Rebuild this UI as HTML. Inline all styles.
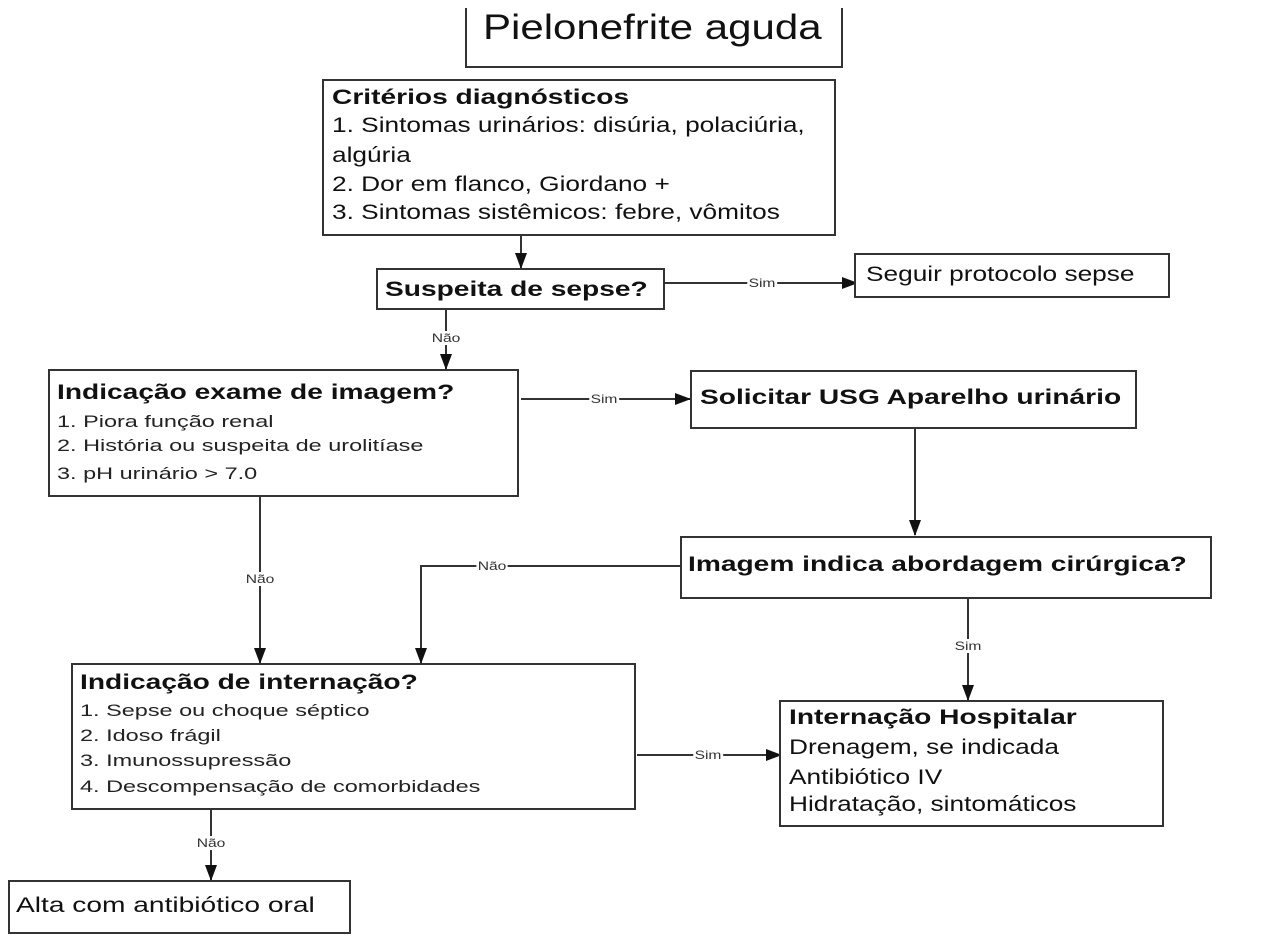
<!DOCTYPE html>
<html><head><meta charset="utf-8"><style>
body{margin:0;width:1269px;height:942px;background:#fff;position:relative;overflow:hidden;font-family:"Liberation Sans",sans-serif;color:#111}
.b{position:absolute;border:2px solid #333;box-sizing:border-box;background:#fff}
.t{position:absolute;white-space:nowrap;transform-origin:0 0;transform:scaleX(1.34);font-size:21px;line-height:24px}
.r{transform:scaleX(1.25)}
.s{font-size:17px;line-height:20px;transform:scaleX(1.38);color:#222}
.bold{font-weight:bold}
svg{position:absolute;left:0;top:0}
.lbl{position:absolute;font-size:12px;line-height:14px;background:#fff;color:#333;transform:translate(-50%,-50%) scaleX(1.3);padding:0 1px}
</style></head><body>
<svg width="1269" height="942">
<defs><marker id="a2" markerWidth="16" markerHeight="12" refX="15" refY="6" orient="auto" markerUnits="userSpaceOnUse"><path d="M0,0 L16,6 L0,12 z" fill="#111"/></marker></defs>
<g stroke="#333" stroke-width="2" fill="none">
<path d="M466,8 V67 H842 V8"/>
<path d="M521,235 V268" marker-end="url(#a2)"/>
<path d="M665,283 H857" marker-end="url(#a2)"/>
<path d="M446,309 V369" marker-end="url(#a2)"/>
<path d="M521,399 H690" marker-end="url(#a2)"/>
<path d="M915,429 V535" marker-end="url(#a2)"/>
<path d="M681,566 H421 V663" marker-end="url(#a2)"/>
<path d="M260,497 V663" marker-end="url(#a2)"/>
<path d="M968,598 V700" marker-end="url(#a2)"/>
<path d="M637,755 H781" marker-end="url(#a2)"/>
<path d="M211,809 V880" marker-end="url(#a2)"/>
</g></svg>
<div class="t" style="left:483px;top:8px;font-size:35px;line-height:40px;transform:scaleX(1.2)">Pielonefrite aguda</div>

<div class="b" style="left:322px;top:79px;width:514px;height:157px"></div>
<div class="t bold" style="left:332px;top:86px">Critérios diagnósticos</div>
<div class="t r" style="left:332px;top:114px">1. Sintomas urinários: disúria, polaciúria,</div>
<div class="t r" style="left:332px;top:144px">algúria</div>
<div class="t r" style="left:332px;top:173px">2. Dor em flanco, Giordano +</div>
<div class="t r" style="left:332px;top:201px">3. Sintomas sistêmicos: febre, vômitos</div>

<div class="b" style="left:376px;top:268px;width:289px;height:42px"></div>
<div class="t bold" style="left:385px;top:278px">Suspeita de sepse?</div>

<div class="b" style="left:854px;top:253px;width:316px;height:45px"></div>
<div class="t r" style="left:866px;top:263px">Seguir protocolo sepse</div>

<div class="b" style="left:48px;top:369px;width:471px;height:128px"></div>
<div class="t bold" style="left:57px;top:381px">Indicação exame de imagem?</div>
<div class="t s" style="left:57px;top:412px">1. Piora função renal</div>
<div class="t s" style="left:57px;top:436px">2. História ou suspeita de urolitíase</div>
<div class="t s" style="left:57px;top:464px">3. pH urinário &gt; 7.0</div>

<div class="b" style="left:690px;top:370px;width:447px;height:59px"></div>
<div class="t bold" style="left:700px;top:386px">Solicitar USG Aparelho urinário</div>

<div class="b" style="left:680px;top:536px;width:532px;height:63px"></div>
<div class="t bold" style="left:688px;top:553px">Imagem indica abordagem cirúrgica?</div>

<div class="b" style="left:71px;top:663px;width:565px;height:147px"></div>
<div class="t bold" style="left:80px;top:671px">Indicação de internação?</div>
<div class="t s" style="left:80px;top:701px">1. Sepse ou choque séptico</div>
<div class="t s" style="left:80px;top:726px">2. Idoso frágil</div>
<div class="t s" style="left:80px;top:751px">3. Imunossupressão</div>
<div class="t s" style="left:80px;top:777px">4. Descompensação de comorbidades</div>

<div class="b" style="left:779px;top:700px;width:385px;height:127px"></div>
<div class="t bold" style="left:789px;top:706px">Internação Hospitalar</div>
<div class="t r" style="left:789px;top:736px">Drenagem, se indicada</div>
<div class="t r" style="left:789px;top:766px">Antibiótico IV</div>
<div class="t r" style="left:789px;top:793px">Hidratação, sintomáticos</div>

<div class="b" style="left:8px;top:880px;width:343px;height:54px"></div>
<div class="t" style="left:16px;top:894px">Alta com antibiótico oral</div>

<div class="lbl" style="left:762px;top:283px">Sim</div>
<div class="lbl" style="left:446px;top:338px">Não</div>
<div class="lbl" style="left:604px;top:399px">Sim</div>
<div class="lbl" style="left:492px;top:566px">Não</div>
<div class="lbl" style="left:260px;top:579px">Não</div>
<div class="lbl" style="left:968px;top:646px">Sim</div>
<div class="lbl" style="left:708px;top:755px">Sim</div>
<div class="lbl" style="left:211px;top:843px">Não</div>
</body></html>
